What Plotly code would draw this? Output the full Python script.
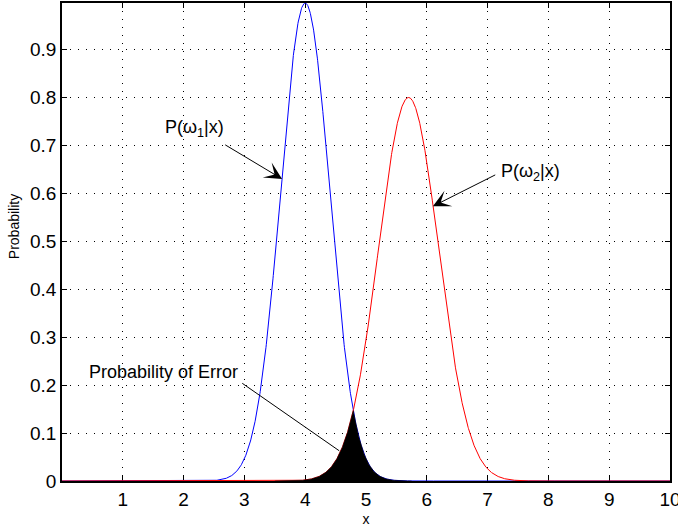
import numpy as np
import plotly.graph_objects as go

# Class-conditional curves (Gaussian shape): peak height, mean, spread
blue_peak, blue_mean, blue_sigma = 0.997, 4.0, 0.404
red_peak, red_mean, red_sigma = 0.80, 5.7, 0.494

# Range over which the overlap (error region) is shaded
error_x_start, error_x_end = 3.5, 5.75

x_ticks = [1, 2, 3, 4, 5, 6, 7, 8, 9, 10]
y_ticks = [0, 0.1, 0.2, 0.3, 0.4, 0.5, 0.6, 0.7, 0.8, 0.9]

x = np.linspace(0, 10, 2001)
p1 = blue_peak * np.exp(-(x - blue_mean) ** 2 / (2 * blue_sigma ** 2))
p2 = red_peak * np.exp(-(x - red_mean) ** 2 / (2 * red_sigma ** 2))

mask = (x >= error_x_start) & (x <= error_x_end)
xe = x[mask]
pe = np.minimum(p1, p2)[mask]

FONT = "Liberation Sans, Arial, Helvetica, sans-serif"

fig = go.Figure()
fig.add_trace(go.Scatter(x=x, y=p1, mode="lines",
                         line=dict(color="#0000ff", width=1), hoverinfo="skip"))
fig.add_trace(go.Scatter(x=x, y=p2, mode="lines",
                         line=dict(color="#ff0000", width=1), hoverinfo="skip"))
fig.add_trace(go.Scatter(x=xe, y=pe, mode="lines", fill="tozeroy",
                         fillcolor="black", line=dict(color="black", width=0.5),
                         hoverinfo="skip"))

axis_common = dict(
    showline=True, linecolor="black", linewidth=1.5, mirror="ticks",
    ticks="inside", ticklen=5, tickcolor="black", tickwidth=1,
    showgrid=True, gridcolor="black", griddash="1px,7px", gridwidth=1,
    zeroline=False, tickfont=dict(family=FONT, size=19, color="black"),
    ticklabeloverflow="allow", layer="below traces", automargin=False,
)

fig.update_xaxes(range=[0, 10], tickvals=x_ticks,
                 ticktext=[str(v) for v in x_ticks],
                 title=dict(text="x", font=dict(family=FONT, size=14, color="black"),
                            standoff=6),
                 **axis_common)
fig.update_yaxes(range=[0, blue_peak], tickvals=y_ticks,
                 ticktext=["0" if v == 0 else f"{v:.1f}" for v in y_ticks],
                 **axis_common)

# y-axis title placed slightly above the axis centre
fig.add_annotation(x=-0.079, y=0.533, xref="paper", yref="paper",
                   text="Probability", textangle=-90, showarrow=False,
                   xanchor="center", yanchor="middle",
                   font=dict(family=FONT, size=14, color="black"))

annot_font = dict(family=FONT, size=18, color="black")
arrows = [
    # head (x, y), tail (ax, ay), arrowhead style
    (3.62, 0.630, 2.66, 0.703, 3),
    (6.10, 0.573, 7.15, 0.640, 3),
    (4.56, 0.063, 2.94, 0.206, 0),
]
for hx, hy, tx, ty, head in arrows:
    fig.add_annotation(x=hx, y=hy, ax=tx, ay=ty, xref="x", yref="y",
                       axref="x", ayref="y", text="", showarrow=True,
                       arrowhead=head, arrowsize=2.9, arrowwidth=1,
                       arrowcolor="black", standoff=0, startstandoff=0)

labels = [
    (1.66, 0.736, "P(ω<sub>1</sub>|x)"),
    (7.19, 0.644, "P(ω<sub>2</sub>|x)"),
    (0.41, 0.227, "Probability of Error"),
]
for lx, ly, txt in labels:
    fig.add_annotation(x=lx, y=ly, xref="x", yref="y", text=txt,
                       showarrow=False, xanchor="left", yanchor="middle",
                       font=annot_font)

fig.update_layout(
    width=678, height=529,
    margin=dict(l=62, r=8, t=3, b=48, autoexpand=False),
    paper_bgcolor="white", plot_bgcolor="white",
    showlegend=False,
)

fig.write_html("out.html")
